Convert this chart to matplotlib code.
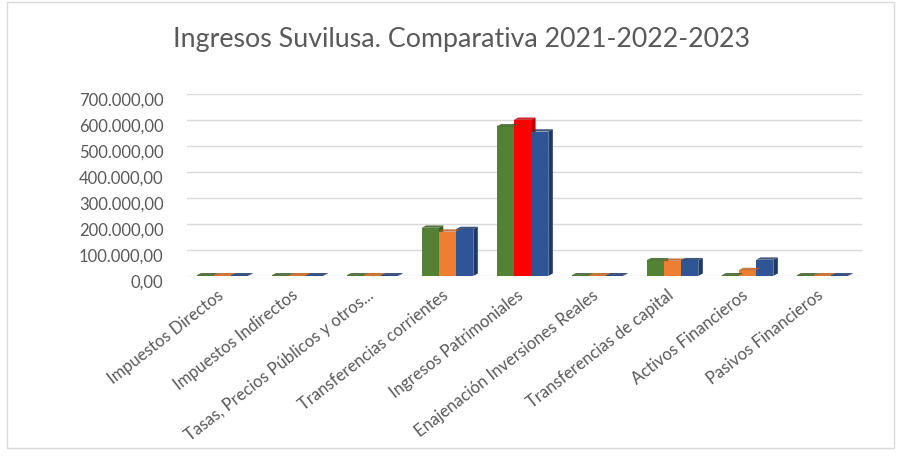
import numpy as np
import matplotlib.pyplot as plt
import matplotlib.transforms as mtransforms
from matplotlib.patches import Rectangle, Polygon

plt.rcParams['font.family'] = ['Lato', 'DejaVu Sans']

# Categories and values per year
categorias = [
    "Impuestos Directos",
    "Impuestos Indirectos",
    "Tasas, Precios Públicos y otros...",
    "Transferencias corrientes",
    "Ingresos Patrimoniales",
    "Enajenación Inversiones Reales",
    "Transferencias de capital",
    "Activos Financieros",
    "Pasivos Financieros",
]
v2021 = [2000, 2000, 2000, 185000, 575000, 2000, 60000, 2000, 2000]
v2022 = [2000, 2000, 2000, 170000, 600000, 2000, 58000, 22000, 2000]
v2023 = [2000, 2000, 2000, 180000, 555000, 2000, 60000, 62000, 2000]

colores = ["#548235", "#ED7D31", "#2F5597"]
lados = ["#3B5E25", "#B85F22", "#1F3A66"]
rojo, rojo_lado = "#FF0000", "#C00000"


def formato(v):
    return f"{v:,.2f}".replace(",", "X").replace(".", ",").replace("X", ".")


fig = plt.figure(figsize=(9, 4.59), dpi=100)
ax = fig.add_axes([0.208, 0.399, 0.75, 0.3965])

x = np.arange(len(categorias))
ancho = 0.23
prof_x = 0.06
prof_y = 9000

series = [v2021, v2022, v2023]
for i, vals in enumerate(series):
    pos = x + (i - 1) * ancho - 0.03
    cols = [colores[i]] * len(vals)
    cols_lado = [lados[i]] * len(vals)
    if i == 1:
        # 2022 Ingresos Patrimoniales highlighted in red
        cols[4] = rojo
        cols_lado[4] = rojo_lado
    bars = ax.bar(pos, vals, width=ancho, color=cols, zorder=3)
    for b, c in zip(bars, cols_lado):
        x0, w, h = b.get_x(), b.get_width(), b.get_height()
        lado = Polygon([[x0 + w, 0], [x0 + w + prof_x, prof_y],
                        [x0 + w + prof_x, h + prof_y], [x0 + w, h]],
                       closed=True, facecolor=c, edgecolor="none", zorder=2)
        techo = Polygon([[x0, h], [x0 + prof_x, h + prof_y],
                         [x0 + w + prof_x, h + prof_y], [x0 + w, h]],
                        closed=True, facecolor=c, edgecolor="none", zorder=4, alpha=0.85)
        ax.add_patch(lado)
        ax.add_patch(techo)

ax.set_xlim(-0.5, len(categorias) - 0.5)
ax.set_ylim(0, 700000)
yticks = np.arange(0, 700001, 100000)
ax.set_yticks(yticks)
ax.set_yticklabels([])
ax.grid(axis="y", color="#D9D9D9", linewidth=1, zorder=0)
for s in ax.spines.values():
    s.set_visible(False)
ax.tick_params(axis="both", length=0, colors="#595959")
ax.tick_params(axis="x", pad=8)

# y labels drawn by hand: right aligned, a little below their gridlines
trans_y = ax.get_yaxis_transform() + mtransforms.ScaledTranslation(-17 / 72, -5 / 72, fig.dpi_scale_trans)
for v in yticks:
    ax.text(0, v, formato(v), transform=trans_y, ha="right", va="center",
            fontsize=12, color="#595959")

ax.set_xticks(x)
ax.set_xticklabels(categorias, rotation=38, ha="right", rotation_mode="anchor",
                   fontsize=12, color="#595959")
mover_x = mtransforms.ScaledTranslation(-6 / 72, 0, fig.dpi_scale_trans)
for lbl in ax.get_xticklabels():
    lbl.set_transform(lbl.get_transform() + mover_x)

fig.text(0.513, 0.913, "Ingresos Suvilusa. Comparativa 2021-2022-2023",
         ha="center", va="center", fontsize=19.3, color="#595959")

fig.patches.append(Rectangle((0.008, 0.025), 0.985, 0.97, transform=fig.transFigure,
                             fill=False, edgecolor="#D9D9D9", linewidth=1))

fig.savefig("out.png", dpi=100)
